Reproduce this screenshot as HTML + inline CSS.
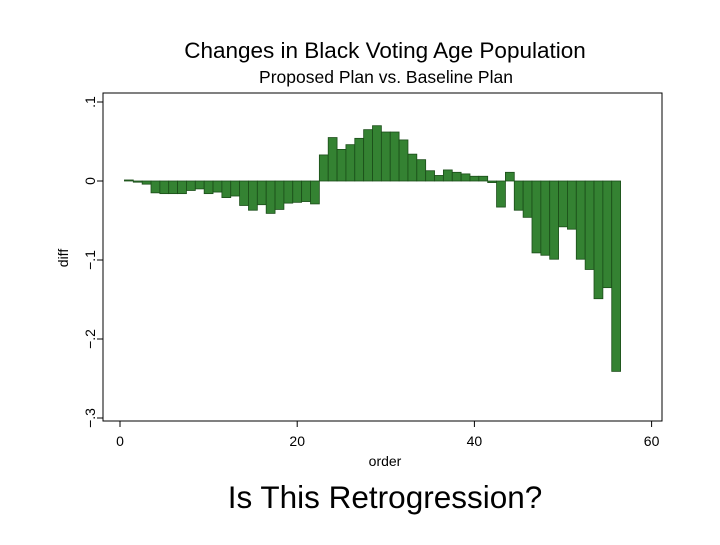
<!DOCTYPE html>
<html><head><meta charset="utf-8"><style>
html,body{margin:0;padding:0;background:#fff;}
svg text{font-family:"Liberation Sans",Arial,sans-serif;fill:#000;}
</style></head><body>
<svg width="720" height="540">
<text x="385" y="58" font-size="22.5" text-anchor="middle">Changes in Black Voting Age Population</text>
<text x="386" y="83" font-size="17.5" text-anchor="middle">Proposed Plan vs. Baseline Plan</text>
<rect x="103" y="93" width="559" height="328" fill="none" stroke="#000" stroke-width="1"/>
<g id="bars"></g>
<g id="axes"></g>
<text x="385" y="466" font-size="14" text-anchor="middle">order</text>
<text transform="translate(68,258) rotate(-90)" font-size="14" text-anchor="middle">diff</text>
<text x="385" y="508" font-size="31.5" text-anchor="middle">Is This Retrogression?</text>
</svg>
<script>
const orders=[];for(let i=1;i<=56;i++)orders.push(i);
const diffs=[0.0013,-0.0015,-0.004,-0.015,-0.016,-0.016,-0.016,-0.012,-0.010,-0.016,-0.014,-0.021,-0.019,-0.031,-0.037,-0.030,-0.041,-0.036,-0.028,-0.027,-0.026,-0.029,0.033,0.055,0.040,0.046,0.054,0.065,0.070,0.062,0.062,0.052,0.034,0.027,0.013,0.007,0.014,0.011,0.009,0.006,0.006,-0.002,-0.033,0.011,-0.037,-0.046,-0.091,-0.094,-0.099,-0.058,-0.061,-0.099,-0.112,-0.149,-0.135,-0.241];
const xTicks=[0,20,40,60];
const yTicks=[0.1,0,-0.1,-0.2,-0.3];
const yTickLabels=[".1","0","\u2212.1","\u2212.2","\u2212.3"];
const NS="http://www.w3.org/2000/svg";
const xs=v=>120+v*8.86;
const ys=v=>181-v*790;
const bg=document.getElementById('bars');
orders.forEach((o,i)=>{
  const r=document.createElementNS(NS,'rect');
  const y0=ys(0),y1=ys(diffs[i]);
  r.setAttribute('x',xs(o-0.5));r.setAttribute('width',8.86);
  r.setAttribute('y',Math.min(y0,y1));r.setAttribute('height',Math.max(0.8,Math.abs(y1-y0)));
  r.setAttribute('fill','#348232');r.setAttribute('stroke','#1a4d18');r.setAttribute('stroke-width','0.8');
  
  
  bg.appendChild(r);
});
const ax=document.getElementById('axes');
xTicks.forEach(t=>{
  const l=document.createElementNS(NS,'line');
  l.setAttribute('x1',xs(t));l.setAttribute('x2',xs(t));l.setAttribute('y1',421);l.setAttribute('y2',427);l.setAttribute('stroke','#000');
  
  
  ax.appendChild(l);
  const tx=document.createElementNS(NS,'text');
  tx.setAttribute('x',xs(t));tx.setAttribute('y',446);tx.setAttribute('font-size','14');tx.setAttribute('text-anchor','middle');
  tx.textContent=t;
  
  
  ax.appendChild(tx);
});
yTicks.forEach((t,i)=>{
  const l=document.createElementNS(NS,'line');
  l.setAttribute('x1',97);l.setAttribute('x2',103);l.setAttribute('y1',ys(t));l.setAttribute('y2',ys(t));l.setAttribute('stroke','#000');
  
  
  ax.appendChild(l);
  const tx=document.createElementNS(NS,'text');
  tx.setAttribute('transform','translate(95,'+ys(t)+') rotate(-90)');tx.setAttribute('font-size','14');tx.setAttribute('text-anchor','middle');
  tx.textContent=yTickLabels[i];
  
  
  ax.appendChild(tx);
});
</script>
</body></html>
